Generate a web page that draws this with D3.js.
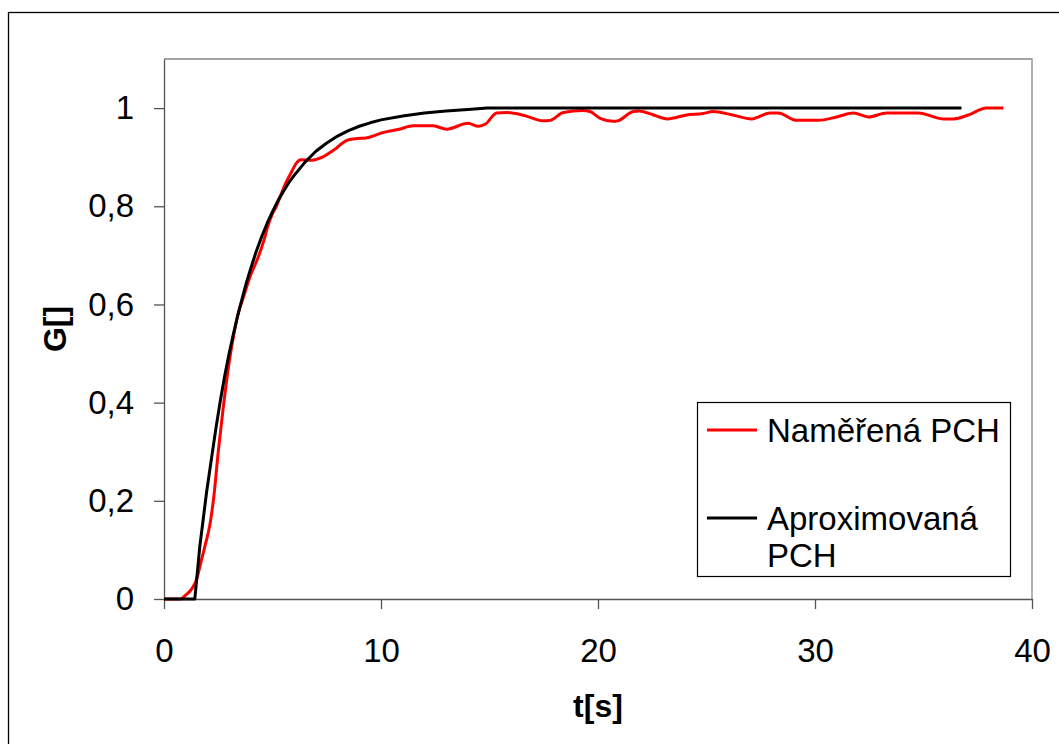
<!DOCTYPE html>
<html lang="cs">
<head>
  <meta charset="UTF-8">
  <title>Přechodová charakteristika</title>
  <script src="https://d3js.org/d3.v7.min.js"></script>
  <style>
    body {
      margin: 0;
      padding: 0;
      background: #fff;
    }
    svg {
      display: block;
      font-family: 'Liberation Sans', Arial, sans-serif;
    }
    .axis text {
      font-size: 33px;
      fill: #000;
    }
    .axis path, .axis line {
      stroke: #555;
      stroke-width: 1.3px;
    }
    .line {
      fill: none;
      stroke-width: 3px;
      stroke-linejoin: round;
    }
  </style>
</head>
<body>
  <svg id="chart"></svg>

  <script>
    // measured step response (Naměřená PCH)
    const measuredT = [0, 0.75, 1.0, 1.27, 1.5, 1.73, 1.9, 2.11, 2.3, 2.5, 2.73, 3.03, 3.2, 3.41, 3.7, 3.95,
      4.33, 4.6, 4.79, 5.0, 5.18, 5.4, 5.64, 5.9, 6.1, 6.3, 6.8, 7.3, 7.6, 7.93, 8.2, 8.47, 8.9, 9.3, 9.7,
      10.08, 10.84, 11.48, 12.4, 13.03, 14.0, 14.5, 14.8, 15.33, 15.8, 16.6, 17.47, 17.8, 18.4, 19.3, 19.63,
      20.1, 20.7, 20.9, 21.63, 21.9, 22.5, 23.2, 24.08, 24.85, 25.3, 26.2, 27.08, 27.93, 28.3, 29.16, 30.15,
      31.0, 31.77, 32.46, 33.3, 34.76, 35.9, 36.4, 37.07, 37.9, 38.68];
    const measuredG = [0, 0, 0.008, 0.02, 0.04, 0.08, 0.11, 0.15, 0.21, 0.30, 0.39, 0.49, 0.535, 0.58, 0.62, 0.655,
      0.695, 0.73, 0.76, 0.785, 0.80, 0.825, 0.85, 0.872, 0.888, 0.895, 0.894, 0.90, 0.908, 0.918, 0.928, 0.935, 0.938, 0.939, 0.944,
      0.95, 0.957, 0.964, 0.964, 0.957, 0.969, 0.963, 0.967, 0.99, 0.991, 0.985, 0.974, 0.975, 0.991, 0.995, 0.993,
      0.979, 0.973, 0.974, 0.993, 0.994, 0.987, 0.978, 0.986, 0.989, 0.993, 0.986, 0.978, 0.990, 0.990, 0.975, 0.975,
      0.982, 0.990, 0.982, 0.990, 0.990, 0.978, 0.978, 0.986, 1.0, 1.0];

    // approximated step response (Aproximovaná PCH)
    const approxT = [0, 1.42, 1.65, 1.8, 1.96, 2.2, 2.4, 2.6, 2.8, 3.0, 3.2, 3.4, 3.6, 3.8, 4.0, 4.25, 4.5, 4.75,
      5.0, 5.25, 5.5, 5.75, 6.0, 6.5, 7.0, 7.5, 8.0, 8.5, 9.0, 9.5, 10.0, 11.0, 12.0, 13.0, 14.0, 14.9, 36.75];
    const approxG = [0, 0, 0.107, 0.16, 0.217, 0.29, 0.35, 0.405, 0.455, 0.50, 0.54, 0.578, 0.612, 0.645, 0.674, 0.708, 0.738, 0.765,
      0.789, 0.811, 0.830, 0.848, 0.863, 0.890, 0.912, 0.929, 0.943, 0.954, 0.963, 0.970, 0.976, 0.984, 0.990, 0.994, 0.997, 1.0, 1.0];

    const xTicks = [0, 10, 20, 30, 40];
    const yTicks = [0, 0.2, 0.4, 0.6, 0.8, 1];
    const seriesNames = ["Naměřená PCH", "Aproximovaná PCH"];
    const seriesColors = ["#ff0000", "#000000"];

    const width = 1059, height = 744;
    const plot = { left: 164, right: 1032, top: 59, bottom: 599 };

    const svg = d3.select("#chart")
      .attr("width", width)
      .attr("height", height);

    // outer frame (right and bottom edges fall outside the picture)
    svg.append("rect")
      .attr("x", 8.5).attr("y", 12.5)
      .attr("width", 1100).attr("height", 800)
      .attr("fill", "#fff")
      .attr("stroke", "#000")
      .attr("stroke-width", 1.3);

    const x = d3.scaleLinear().domain([0, 40]).range([plot.left, plot.right]);
    const y = d3.scaleLinear().domain([0, 1.1]).range([plot.bottom, plot.top]);

    const csLocale = d3.formatLocale({ decimal: ",", thousands: " ", grouping: [3], currency: ["", ""] });
    const fmt = csLocale.format(".1~f");

    // plot frame top + right
    svg.append("path")
      .attr("d", `M${plot.left},${plot.top}H${plot.right}V${plot.bottom}`)
      .attr("fill", "none")
      .attr("stroke", "#888")
      .attr("stroke-width", 1.3);

    svg.append("g")
      .attr("class", "axis")
      .attr("transform", `translate(0,${plot.bottom})`)
      .call(d3.axisBottom(x).tickValues(xTicks).tickSize(10).tickSizeOuter(0).tickPadding(30).tickFormat(d3.format("d")));

    svg.append("g")
      .attr("class", "axis")
      .attr("transform", `translate(${plot.left},0)`)
      .call(d3.axisLeft(y).tickValues(yTicks).tickSize(10).tickSizeOuter(0).tickPadding(20).tickFormat(fmt));

    svg.selectAll(".axis").attr("font-family", null).attr("font-size", null);

    const line = d3.line().x(d => x(d[0])).y(d => y(d[1]));

    const measured = measuredT.map((t, i) => [t, measuredG[i]]);
    const approx = approxT.map((t, i) => [t, approxG[i]]);

    svg.append("path")
      .datum(measured)
      .attr("class", "line")
      .attr("stroke", seriesColors[0])
      .attr("d", line.curve(d3.curveMonotoneX));

    svg.append("path")
      .datum(approx)
      .attr("class", "line")
      .attr("stroke", seriesColors[1])
      .attr("d", line.curve(d3.curveLinear));

    // axis titles
    svg.append("text")
      .attr("x", (plot.left + plot.right) / 2)
      .attr("y", 717)
      .attr("text-anchor", "middle")
      .style("font-size", "32px")
      .style("font-weight", "bold")
      .text("t[s]");

    svg.append("text")
      .attr("transform", `translate(66,${(plot.top + plot.bottom) / 2}) rotate(-90)`)
      .attr("text-anchor", "middle")
      .style("font-size", "32px")
      .style("font-weight", "bold")
      .text("G[]");

    // legend
    const legend = svg.append("g").attr("transform", "translate(697,402)");
    legend.append("rect")
      .attr("x", 0.5).attr("y", 0.5)
      .attr("width", 313).attr("height", 174)
      .attr("fill", "#fff")
      .attr("stroke", "#000")
      .attr("stroke-width", 1.2);

    const rowY = [28, 116];
    seriesNames.forEach((name, i) => {
      legend.append("line")
        .attr("x1", 10).attr("x2", 60)
        .attr("y1", rowY[i]).attr("y2", rowY[i])
        .attr("stroke", seriesColors[i])
        .attr("stroke-width", 3);
    });

    legend.append("text")
      .attr("x", 70).attr("y", rowY[0]).attr("dy", "0.35em")
      .style("font-size", "33px")
      .text(seriesNames[0]);

    const t2 = legend.append("text")
      .attr("x", 70).attr("y", rowY[1]).attr("dy", "0.35em")
      .style("font-size", "33px");
    t2.append("tspan").attr("x", 70).text("Aproximovaná");
    t2.append("tspan").attr("x", 70).attr("dy", "1.12em").text("PCH");
  </script>
</body>
</html>
